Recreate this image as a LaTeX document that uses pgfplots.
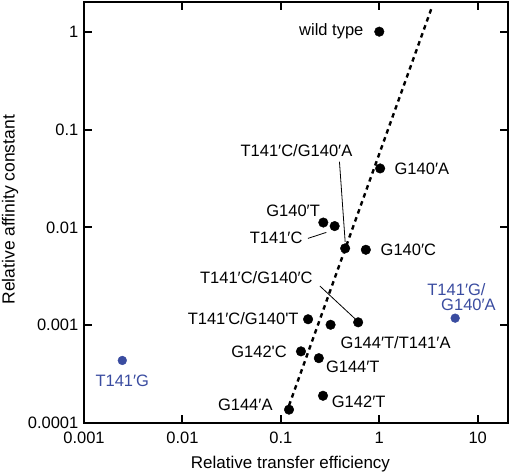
\documentclass[border=0pt]{standalone}
\usepackage{fontspec}
\setmainfont{Liberation Sans}
\usepackage{pgfplots}
\pgfplotsset{compat=1.18}
\definecolor{ptblue}{RGB}{58,76,160}
\newcommand{\p}{′}
\begin{document}
\fontsize{16.5}{19}\selectfont
\begin{tikzpicture}[font=\fontsize{16.5}{19}\selectfont]
\begin{axis}[name=ax, scale only axis, width=424pt, height=421pt,
  xmode=log, ymode=log, xmin=0.001, xmax=20.3, ymin=0.0001, ymax=2.01,
  xtick={0.001,0.01,0.1,1,10}, xticklabels={0.001,0.01,0.1,1,10},
  ytick={0.0001,0.001,0.01,0.1,1}, yticklabels={0.0001,0.001,0.01,0.1,1},
  xminorticks=false, yminorticks=false,
  /pgf/number format/assume math mode=true,
  tick align=inside, major tick length=8pt,
  axis line style={line width=2.6pt},
  tick style={line width=2pt, black},
  xticklabel style={yshift=-3pt},
  xlabel={Relative transfer efficiency},
  ylabel={Relative affinity constant},
  xlabel style={at={([yshift=-41pt]axis description cs:0.487,0)}, anchor=center, font=\fontsize{17}{20}\selectfont},
  ylabel style={at={([xshift=-74pt]axis description cs:0,0.5066)}, anchor=center, font=\fontsize{17.5}{20}\selectfont},
  clip=false,
]
\addplot[black, line width=2.4pt, dash pattern=on 4.5pt off 4pt] coordinates {(0.121,0.000151) (3.47,1.85)};
\addplot[only marks, mark=*, mark size=4.8pt, black] coordinates {
(1,1) (1.02,0.040) (0.27,0.0112) (0.352,0.0103) (0.45,0.0061) (0.73,0.0059)
(0.61,0.00107) (0.189,0.00115) (0.32,0.00101) (0.16,0.00054) (0.243,0.00046)
(0.268,0.00019) (0.121,0.000137)};
\addplot[only marks, mark=*, mark size=4.4pt, ptblue] coordinates {(0.00245,0.000436) (5.9,0.00118)};
\begin{scope}[every node/.style={inner sep=0pt}]
\node[anchor=east, xshift=-15.7pt] at (axis cs:1,1) {wild type};
\node[anchor=west, xshift=14.3pt] at (axis cs:1.02,0.040) {G140\p A};
\node[xshift=-48.7pt, yshift=97.6pt] at (axis cs:0.45,0.0061) {T141\p C/G140\p A};
\draw[line width=0.8pt] ([shift={(-5.7pt,86.6pt)}]axis cs:0.45,0.0061) -- ([shift={(0pt,6.6pt)}]axis cs:0.45,0.0061);
\node[xshift=-30.2pt, yshift=11.3pt] at (axis cs:0.27,0.0112) {G140\p T};
\node[xshift=-58.5pt, yshift=-12pt] at (axis cs:0.352,0.0103) {T141\p C};
\draw[line width=0.8pt] ([shift={(-26.7pt,-12.3pt)}]axis cs:0.352,0.0103) -- ([shift={(-8.3pt,-6.3pt)}]axis cs:0.352,0.0103);
\node[anchor=west, xshift=14.7pt] at (axis cs:0.73,0.0059) {G140\p C};
\node[xshift=-101.8pt, yshift=44.7pt] at (axis cs:0.61,0.00107) {T141\p C/G140\p C};
\draw[line width=0.8pt] ([shift={(-38.3pt,36.3pt)}]axis cs:0.61,0.00107) -- ([shift={(-3.3pt,3.7pt)}]axis cs:0.61,0.00107);
\node[anchor=east, xshift=-9.3pt, yshift=1pt] at (axis cs:0.189,0.00115) {T141\p C/G140\textquotesingle T};
\node[xshift=65pt, yshift=-17.4pt] at (axis cs:0.32,0.00101) {G144\p T/T141\p A};
\node[anchor=east, xshift=-14pt] at (axis cs:0.16,0.00054) {G142\textquotesingle C};
\node[anchor=west, xshift=7pt, yshift=-9pt] at (axis cs:0.243,0.00046) {G144\p T};
\node[anchor=west, xshift=8.7pt, yshift=-5.7pt] at (axis cs:0.268,0.00019) {G142\p T};
\node[anchor=east, xshift=-16.3pt, yshift=5pt] at (axis cs:0.121,0.000137) {G144\p A};
\node[text=ptblue, yshift=-20pt] at (axis cs:0.00245,0.000436) {T141\p G};
\node[text=ptblue, xshift=1.3pt, yshift=28.7pt] at (axis cs:5.9,0.00118) {T141\p G/};
\node[text=ptblue, xshift=13.3pt, yshift=13.4pt] at (axis cs:5.9,0.00118) {G140\p A};
\end{scope}
\end{axis}
\pgfresetboundingbox
\path[use as bounding box] ([shift={(-84pt,-52pt)}]ax.south west) rectangle ([shift={(3pt,2pt)}]ax.north east);
\end{tikzpicture}
\end{document}
